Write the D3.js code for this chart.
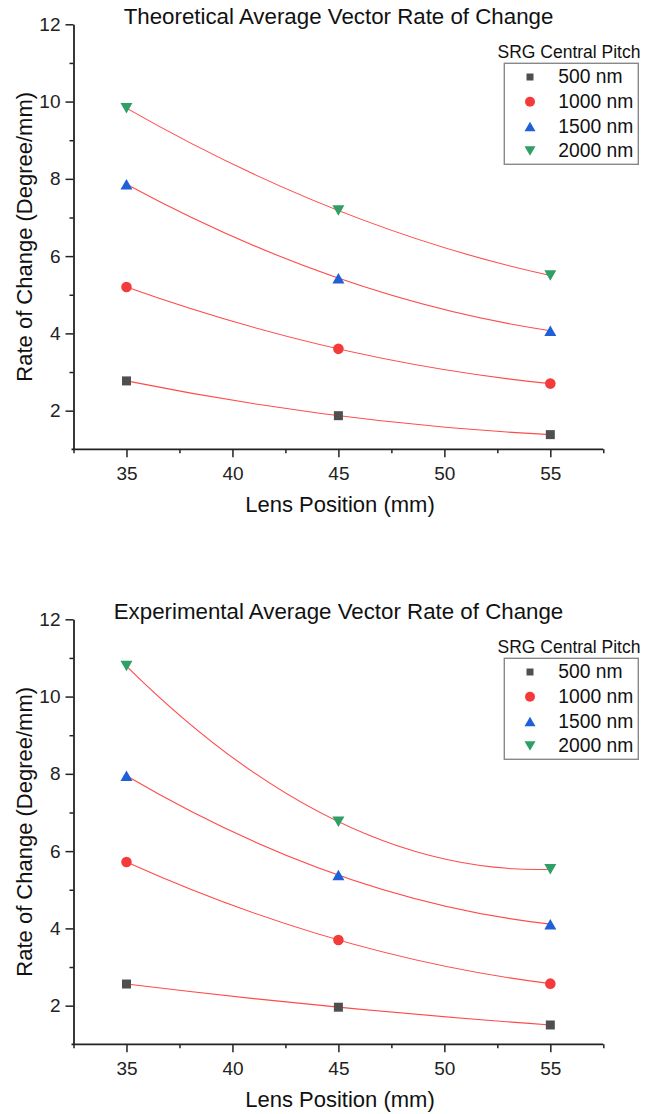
<!DOCTYPE html>
<html>
<head>
<meta charset="utf-8">
<script src="https://cdn.jsdelivr.net/npm/d3@7"></script>
<style>
  body { margin: 0; background: #fff; }
  svg { display: block; font-family: "Liberation Sans", Arial, sans-serif; }
</style>
</head>
<body>
<div id="chart"></div>
<script>
// two stacked scatter + fit charts (theoretical vs experimental)

const lensPos = [35, 45, 55];
const pitches = ["500 nm", "1000 nm", "1500 nm", "2000 nm"];
const xTicks = [35, 40, 45, 50, 55];
const yTicks = [2, 4, 6, 8, 10, 12];

const theo500 = [2.77, 1.87, 1.38];
const theo1000 = [5.20, 3.60, 2.70];
const theo1500 = [7.86, 5.43, 4.07];
const theo2000 = [9.83, 7.18, 5.50];

const exp500 = [2.56, 1.96, 1.50];
const exp1000 = [5.72, 3.70, 2.57];
const exp1500 = [7.95, 5.38, 4.11];
const exp2000 = [10.79, 6.76, 5.53];

const markerColors = ["#4f4f4f", "#f43b3b", "#1f5fd8", "#2ea065"];
const fitColor = "#ff2a2a";
const axisColor = "#222";

const W = 645, H = 1114;

const svg = d3.select("#chart").append("svg")
    .attr("width", W)
    .attr("height", H);

// marker shapes (0 square, 1 circle, 2 tri up, 3 tri down)
function markerPath(type, s) {
    if (type === 0) {
        const h = s.sq / 2;
        return `M${-h},${-h}H${h}V${h}H${-h}Z`;
    }
    if (type === 1) {
        const r = s.r;
        return `M${r},0A${r},${r} 0 1,1 ${-r},0A${r},${r} 0 1,1 ${r},0Z`;
    }
    const w = s.tw / 2, h = s.th / 2;
    if (type === 2) return `M0,${-h}L${w},${h}L${-w},${h}Z`;
    return `M0,${h}L${w},${-h}L${-w},${-h}Z`;
}

const plotMarker = { sq: 9, r: 5.3, tw: 12, th: 10.5 };
const legendMarker = { sq: 7, r: 5, tw: 11, th: 9.5 };

function drawChart(offsetY, title, series) {
    const g = svg.append("g").attr("transform", `translate(0,${offsetY})`);

    const x = d3.scaleLinear().domain([32.5, 57.5]).range([73.5, 603.3]);
    const y = d3.scaleLinear().domain([1, 12]).range([449.3, 24.3]);

    // ── Axes ─────────────────────────────
    // y minor ticks
    g.append("g")
        .attr("transform", `translate(${x(32.5)},0)`)
        .call(d3.axisLeft(y).tickValues([3, 5, 7, 9, 11]).tickSize(4).tickFormat(""))
        .call(a => a.select(".domain").remove())
        .selectAll("line").attr("stroke", axisColor).attr("stroke-width", 1.5);

    const yAxis = g.append("g")
        .attr("transform", `translate(${x(32.5)},0)`)
        .call(d3.axisLeft(y).tickValues(yTicks).tickSize(8).tickPadding(5).tickSizeOuter(0));
    yAxis.select(".domain").attr("stroke", axisColor).attr("stroke-width", 1.8);
    yAxis.selectAll("line").attr("stroke", axisColor).attr("stroke-width", 1.5);
    yAxis.selectAll("text")
        .style("font-size", "19px")
        .attr("fill", axisColor);

    // x minor ticks
    g.append("g")
        .attr("transform", `translate(0,${y(1)})`)
        .call(d3.axisBottom(x).tickValues([32.5, 37.5, 42.5, 47.5, 52.5, 57.5]).tickSize(4).tickFormat(""))
        .call(a => a.select(".domain").remove())
        .selectAll("line").attr("stroke", axisColor).attr("stroke-width", 1.5);

    const xAxis = g.append("g")
        .attr("transform", `translate(0,${y(1)})`)
        .call(d3.axisBottom(x).tickValues(xTicks).tickSize(8).tickPadding(9).tickSizeOuter(0));
    xAxis.select(".domain")
        .attr("d", `M${x(32.5) - 2},0H${x(57.5)}`)
        .attr("stroke", axisColor).attr("stroke-width", 1.8);
    xAxis.selectAll("line").attr("stroke", axisColor).attr("stroke-width", 1.5);
    xAxis.selectAll("text")
        .style("font-size", "19px")
        .attr("fill", axisColor);

    // ── Titles ───────────────────────────
    g.append("text")
        .attr("x", 338.5)
        .attr("y", 23.5)
        .attr("text-anchor", "middle")
        .style("font-size", "22.3px")
        .attr("fill", "#111")
        .text(title);

    g.append("text")
        .attr("x", 340)
        .attr("y", 511.5)
        .attr("text-anchor", "middle")
        .style("font-size", "22px")
        .attr("fill", "#111")
        .text("Lens Position (mm)");

    g.append("text")
        .attr("transform", `translate(31.5,${(y(1) + y(12)) / 2}) rotate(-90)`)
        .attr("text-anchor", "middle")
        .style("font-size", "22px")
        .attr("fill", "#111")
        .text("Rate of Change (Degree/mm)");

    // ── Fit curves (parabola through the 3 points as a quadratic bezier) ──
    series.forEach(vals => {
        const p = d3.path();
        const ctrl = 2 * vals[1] - (vals[0] + vals[2]) / 2;
        p.moveTo(x(lensPos[0]), y(vals[0]));
        p.quadraticCurveTo(x(lensPos[1]), y(ctrl), x(lensPos[2]), y(vals[2]));
        g.append("path")
            .attr("d", p.toString())
            .attr("fill", "none")
            .attr("stroke", fitColor)
            .attr("stroke-width", 1.1)
            .attr("stroke-opacity", 0.85);
    });

    // ── Markers ──────────────────────────
    series.forEach((vals, si) => {
        g.append("g").selectAll("path")
            .data(vals)
            .enter()
            .append("path")
            .attr("d", markerPath(si, plotMarker))
            .attr("transform", (d, i) => `translate(${x(lensPos[i])},${y(d)})`)
            .attr("fill", markerColors[si]);
    });

    // ── Legend ───────────────────────────
    g.append("text")
        .attr("x", 497.5)
        .attr("y", 58.3)
        .style("font-size", "17.5px")
        .attr("fill", "#111")
        .text("SRG Central Pitch");

    g.append("rect")
        .attr("x", 504.3)
        .attr("y", 63.3)
        .attr("width", 134)
        .attr("height", 101)
        .attr("fill", "#fff")
        .attr("stroke", "#888")
        .attr("stroke-width", 1.4);

    const rowH = 24.7;
    const items = g.append("g").selectAll("g")
        .data(pitches)
        .enter()
        .append("g")
        .attr("transform", (d, i) => `translate(0,${83.3 + i * rowH})`);

    items.append("path")
        .attr("d", (d, i) => markerPath(i, legendMarker))
        .attr("transform", "translate(530,-6.3)")
        .attr("fill", (d, i) => markerColors[i]);

    items.append("text")
        .attr("x", 558.3)
        .attr("y", 0)
        .style("font-size", "19.3px")
        .attr("fill", "#111")
        .text(d => d);
}

drawChart(0, "Theoretical Average Vector Rate of Change",
    [theo500, theo1000, theo1500, theo2000]);

drawChart(595, "Experimental Average Vector Rate of Change",
    [exp500, exp1000, exp1500, exp2000]);
</script>
</body>
</html>
